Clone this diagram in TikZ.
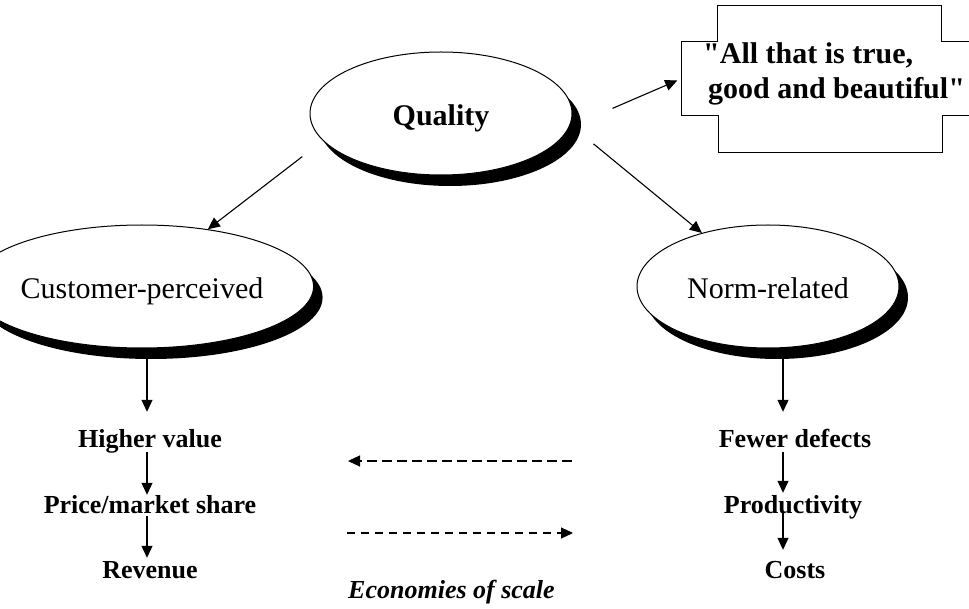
\documentclass[tikz,border=0pt]{standalone}
\usepackage{fontspec}
\setmainfont{Liberation Serif}[Ligatures=TeXOff]
\usetikzlibrary{arrows.meta,shapes.geometric,shadows}
\begin{document}
\begin{tikzpicture}[x=1pt,y=-1pt,
  oval/.style={ellipse,draw=black,line width=1pt,fill=white,minimum width=262pt,minimum height=123pt,
    inner sep=0pt,text height=25pt,text depth=0pt,font=\fontsize{30}{36}\selectfont,
    drop shadow={shadow xshift=9pt,shadow yshift=-11pt,fill=black,opacity=1}},
  lbl/.style={inner sep=0pt,anchor=base,text height=18pt,text depth=6pt,font=\fontsize{26}{30}\selectfont\bfseries},
  arr/.style={line width=1.1pt,-{Triangle[length=12pt,width=11pt]}},
  boxline/.style={line width=1pt,draw=black}
]
\useasboundingbox (0,0) rectangle (969,609);

% ellipses
\node[oval,font=\fontsize{30}{36}\selectfont\bfseries] (Q) at (441,113.5) {Quality};
\node[oval] (C) at (142,286.5) {Customer-perceived};
\node[oval] (N) at (768,286.5) {Norm-related};

% box
\node[draw=none,minimum width=296pt,minimum height=73pt,inner sep=0pt] (B) at (830,78.5) {};
\draw[boxline] (B.north west) -- ++(36,0) -- ++(0,-36) -- ++(224,0) -- ++(0,36) -- (B.north east)
  -- (B.south east) -- ++(-36,0) -- ++(0,37) -- ++(-224,0) -- ++(0,-37) -- (B.south west) -- cycle;
\node[anchor=north west,inner sep=0pt,align=left,font=\fontsize{30}{35}\selectfont\bfseries] (bt) at (703,42.5)
  {"All that is true,\\\hspace*{5pt}good and beautiful"};

% labels
\node[lbl] (hv) at (150,447) {Higher value};
\node[lbl] (pm) at (150,513) {Price/market share};
\node[lbl] (rv) at (150,578) {Revenue};
\node[lbl] (fd) at (795,447) {Fewer defects};
\node[lbl] (pr) at (793,513) {Productivity};
\node[lbl] (co) at (795,578) {Costs};
\node[lbl,anchor=base west,font=\fontsize{26}{30}\selectfont\bfseries\itshape] (es) at (348,598) {Economies of scale};

% arrows from Quality
\draw[arr,shorten <=26pt] (Q.193) -- (C.41);
\draw[arr,shorten <=30pt] (Q.-5) -- (N.141);
\draw[arr,shorten <=47pt,shorten >=5pt] (Q.-6) -- (B.west);

% left chain
\draw[arr] ([xshift=5pt,yshift=-11pt]C.south) -- ([xshift=-3pt,yshift=17pt]hv.north);
\draw[arr] ([xshift=-3pt,yshift=1pt]hv.south) -- ([xshift=-3pt]pm.north);
\draw[arr] ([xshift=-3pt,yshift=3pt]pm.south) -- ([xshift=-3pt,yshift=2pt]rv.north);

% right chain
\draw[arr] ([xshift=15pt,yshift=-11pt]N.south) -- ([xshift=-12pt,yshift=17pt]fd.north);
\draw[arr] ([xshift=-12pt,yshift=1pt]fd.south) -- ([xshift=-10pt,yshift=2pt]pr.north);
\draw[arr] ([xshift=-10pt,yshift=6pt]pr.south) -- ([xshift=-12pt,yshift=10pt]co.north);

% dashed arrows
\coordinate (d1s) at (572,461);
\coordinate (d1e) at (348,461);
\coordinate (d2s) at (347,533);
\coordinate (d2e) at (573,533);
\draw[arr,dash pattern=on 10pt off 5pt] (d1s) -- (d1e);
\draw[arr,dash pattern=on 8pt off 6pt] (d2s) -- (d2e);
\end{tikzpicture}
\end{document}
